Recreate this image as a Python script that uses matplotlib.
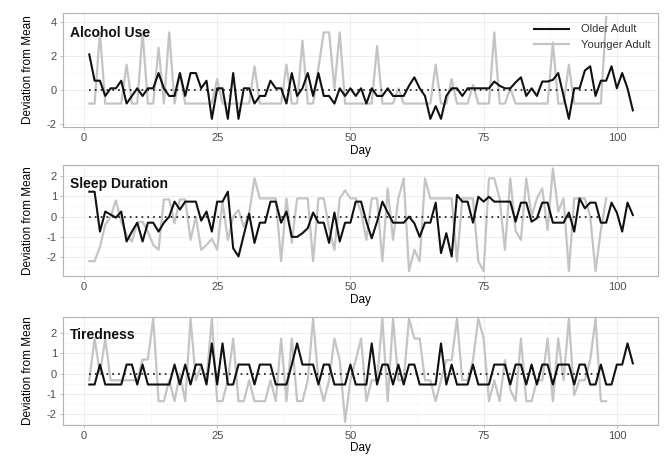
import numpy as np
import matplotlib
matplotlib.use("Agg")
import matplotlib.pyplot as plt
from matplotlib.ticker import MultipleLocator

plt.rcParams['font.family'] = ['Liberation Sans', 'DejaVu Sans']
plt.rcParams['axes.unicode_minus'] = False

# day index: older adults have 103 days, younger adults 98
older_days = np.arange(1, 104)
younger_days = np.arange(1, 99)

alcohol_older = [
    2.1, 0.55, 0.55, -0.35, 0.1, 0.1, 0.55, -0.8, -0.35, 0.1,
    -0.35, 0.1, 0.1, 1.0, 0.1, -0.35, -0.35, 1.0, -0.35, 1.0,
    1.0, 0.1, 0.55, -1.7, 0.1, 0.1, -1.7, 1.0, -1.7, 0.1,
    0.1, -0.8, -0.35, -0.35, 0.55, 0.1, 0.1, -0.8, 1.0, -0.35,
    0.1, 1.0, -0.35, 1.0, -0.35, -0.35, -0.8, 0.1, -0.35, 0.1,
    -0.35, 0.1, -0.8, 0.1, -0.35, -0.35, 0.1, -0.35, -0.35, -0.35,
    0.25, 0.75, 0.1, -0.35, -1.7, -0.95, -1.7, -0.35, 0.1, 0.1,
    -0.35, 0.1, 0.1, 0.1, 0.1, 0.1, 0.5, 0.25, 0.1, 0.1,
    0.45, 0.75, -0.35, 0.1, -0.35, 0.5, 0.5, 0.6, 1.0, -0.35,
    -1.7, 0.1, 0.1, 1.15, 1.4, -0.35, 0.55, 0.55, 1.4, 0.1,
    1.0, 0.1, -1.2,
]
alcohol_younger = [
    -0.8, -0.8, 3.4, -0.8, -0.8, -0.8, -0.8, 1.5, -0.8, -0.8,
    3.4, -0.8, -0.8, 2.5, -0.8, 3.4, -0.8, 1.0, -0.8, -0.8,
    -0.8, -0.8, -0.8, -0.8, 0.65, -0.8, -0.8, -0.8, -0.8, -0.8,
    -0.8, 1.4, -0.8, -0.8, -0.8, -0.8, -0.8, 1.5, -0.8, -0.8,
    2.9, -0.8, -0.8, 1.3, 3.4, 3.4, 0.1, 3.4, -0.8, -0.8,
    -0.8, -0.8, -0.8, -0.8, 2.6, -0.8, -0.8, -0.8, 0.1, -0.8,
    -0.8, -0.8, -0.8, -0.8, -0.8, 1.5, -0.8, -0.8, 0.65, -0.8,
    -0.8, -0.8, 0.3, -0.8, -0.8, -0.8, 3.4, -0.8, -0.8, 0.1,
    -0.8, -0.8, -0.8, -0.8, -0.8, -0.8, -0.8, 2.8, -0.8, -0.8,
    1.5, -0.8, -0.8, -0.8, -0.8, -0.8, -0.8, 4.3,
]

sleep_older = [
    1.23, 1.23, -0.74, 0.25, 0.1, -0.05, 0.25, -1.23, -0.74, -0.3,
    -1.23, -0.3, -0.3, -0.74, -0.3, 0.0, 0.74, 0.35, 0.74, 0.74,
    0.74, -0.2, 0.25, -0.74, 0.74, 0.74, 1.23, -1.56, -1.97, -0.9,
    0.15, -1.3, -0.3, -0.3, 0.74, 0.74, -0.3, 0.25, -1.0, -1.0,
    -0.82, -0.57, 0.2, -0.3, -0.3, -1.3, 0.2, -1.23, -0.3, -0.3,
    0.74, 0.74, -0.25, -1.07, -0.25, 0.74, 0.2, -0.3, -0.3, -0.3,
    0.0, -0.33, -1.0, -0.3, -0.3, 0.69, -1.8, -0.82, -1.97, 1.07,
    0.74, 0.74, -0.3, 0.98, 0.74, 0.98, 0.74, 0.74, 0.74, 0.74,
    -0.25, 0.69, 0.69, -0.25, -0.08, 0.69, 0.69, -0.3, -0.3, -0.3,
    0.2, -0.74, 0.9, 0.41, 0.69, 0.69, -0.3, -0.3, 0.69, 0.2,
    -0.74, 0.69, 0.08,
]
sleep_younger = [
    -2.2, -2.2, -1.5, -0.4, 0.0, 0.8, -0.25, -0.9, -1.23, -0.3,
    -0.25, -0.74, -1.4, -1.64, 0.85, 0.85, -0.33, 0.85, 0.85, -1.15,
    0.0, -1.64, -1.4, -1.1, -1.64, 0.74, -1.15, 0.0, 0.33, -0.5,
    0.16, 1.89, 0.9, 0.9, 0.9, 0.9, -2.2, 0.9, -1.3, 0.9,
    0.9, 0.9, -2.2, 0.9, 0.9, -0.57, -1.64, 0.9, 1.3, 0.9,
    0.9, 0.25, -1.15, 0.9, 0.9, -2.2, 1.39, -1.15, 0.9, 1.89,
    -2.7, -1.64, -2.2, 1.89, 0.9, 0.9, 0.9, 0.9, 0.9, -2.2,
    0.9, 0.9, 0.9, -2.2, -2.7, 1.89, 1.89, 0.9, -1.64, 1.89,
    -0.7, -1.15, 1.89, 0.0, 0.9, 1.39, -0.66, 2.38, 0.25, 0.9,
    -2.7, 0.9, 0.9, 0.9, 0.0, -2.7, -0.66, 0.9,
]

tired_older = [
    -0.54, -0.54, 0.44, -0.54, -0.54, -0.54, -0.54, 0.44, 0.44, -0.54,
    0.44, -0.54, -0.54, -0.54, -0.54, -0.54, 0.44, -0.54, 0.44, -0.54,
    0.44, 0.44, -0.54, 1.48, -0.54, 1.48, -0.54, -0.54, 0.44, 0.44,
    0.44, -0.54, 0.44, 0.44, 0.44, -0.54, -0.54, -0.54, 0.44, 1.48,
    0.44, 0.44, 0.44, -0.54, 0.44, 0.44, -0.54, -0.54, -0.54, 0.44,
    -0.54, -0.54, -0.54, 1.48, -0.54, 0.44, 0.44, -0.54, 0.44, -0.54,
    0.44, 0.44, -0.54, -0.54, -0.54, -0.54, 1.48, -0.54, 0.44, -0.54,
    -0.54, -0.54, 0.44, -0.54, -0.54, -0.54, 0.44, 0.44, 0.44, -0.54,
    0.44, 0.44, -0.54, 0.44, -0.54, 0.44, 0.44, -0.54, 0.44, 0.44,
    0.44, -0.54, 0.44, 0.44, -0.54, -0.54, 0.44, -0.54, -0.54, 0.44,
    0.44, 1.48, 0.5,
]
tired_younger = [
    -0.33, 1.72, 0.0, 1.72, -0.33, -0.33, -0.33, -0.33, -0.33, -0.33,
    0.69, 0.69, 2.7, -1.36, -1.36, -0.33, -1.36, 0.0, -1.36, 2.7,
    -0.33, 0.4, -0.33, 2.7, -1.36, -1.36, -0.33, 1.72, -1.36, -1.36,
    -0.33, -1.36, -1.36, -1.36, -0.33, -1.36, 1.72, -1.36, 1.72, -1.36,
    -1.36, -0.33, 2.7, -0.33, -1.36, -0.33, 1.72, 0.66, -2.38, -0.33,
    0.66, 1.72, -1.36, -0.33, -0.33, 2.7, -1.36, 2.7, -0.33, -0.33,
    2.7, 1.72, 1.72, -0.33, -0.33, -1.36, -0.33, 0.66, 0.66, 2.7,
    -0.33, -0.33, 0.66, 2.7, 1.72, -1.36, -0.33, -1.36, 0.66, -0.8,
    -1.36, 1.72, -1.36, -1.36, -0.33, -0.33, 1.72, -1.36, 1.72, -0.33,
    2.7, -1.07, -0.33, -0.33, 0.66, 2.7, -1.36, -1.36,
]

panels = [
    ("Alcohol Use", alcohol_older, alcohol_younger, (-2.18, 4.53), [-2, 0, 2, 4]),
    ("Sleep Duration", sleep_older, sleep_younger, (-2.94, 2.54), [-2, -1, 0, 1, 2]),
    ("Tiredness", tired_older, tired_younger, (-2.52, 2.77), [-2, -1, 0, 1, 2]),
]

# axes boxes in figure fractions [left, bottom, width, height]
boxes = [
    [0.094, 0.731, 0.885, 0.241],
    [0.094, 0.415, 0.885, 0.235],
    [0.094, 0.100, 0.885, 0.228],
]

fig = plt.figure(figsize=(6.72, 4.72), dpi=100)

for (title, older, younger, ylim, yticks), box in zip(panels, boxes):
    ax = fig.add_axes(box)
    ax.set_xlim(-3.9, 107.7)
    ax.set_ylim(*ylim)
    ax.set_xticks([0, 25, 50, 75, 100])
    ax.set_yticks(yticks)
    ax.xaxis.set_minor_locator(MultipleLocator(12.5))
    ax.yaxis.set_minor_locator(MultipleLocator((yticks[1] - yticks[0]) / 2))
    ax.grid(which='major', color='#ebebeb', lw=0.6, zorder=0)
    ax.grid(which='minor', color='#f4f4f4', lw=0.4, zorder=0)
    ax.tick_params(which='minor', length=0)
    ax.tick_params(which='major', length=2.5, width=0.6, color='#b3b3b3',
                   labelsize=8, labelcolor='#4d4d4d', pad=2)
    for s in ax.spines.values():
        s.set_color('#b3b3b3')
        s.set_linewidth(0.8)

    ax.plot(younger_days, younger, color='#c4c4c4', lw=1.6, label='Younger Adult', zorder=2)
    ax.plot(older_days, older, color='#111111', lw=1.5, label='Older Adult', zorder=3)
    ax.plot([1, 97], [0, 0], color='#111111', lw=1.2, ls=(0, (1, 2.5)), zorder=4)

    ax.text(0.012, 0.83, title, transform=ax.transAxes, fontsize=10,
            fontweight='bold', color='#111111', va='center', ha='left')
    ax.set_xlabel("Day", fontsize=8.5, labelpad=1)
    ax.set_ylabel("Deviation from Mean", fontsize=8.5, labelpad=9)

    if title == "Alcohol Use":
        h, l = ax.get_legend_handles_labels()
        ax.legend([h[1], h[0]], [l[1], l[0]],
                  loc='upper right', bbox_to_anchor=(1.0, 0.97), frameon=False,
                  fontsize=8, handlelength=3.2, labelcolor='#333333',
                  borderaxespad=0.3, handletextpad=1.0)

fig.savefig("out.png", dpi=100)
